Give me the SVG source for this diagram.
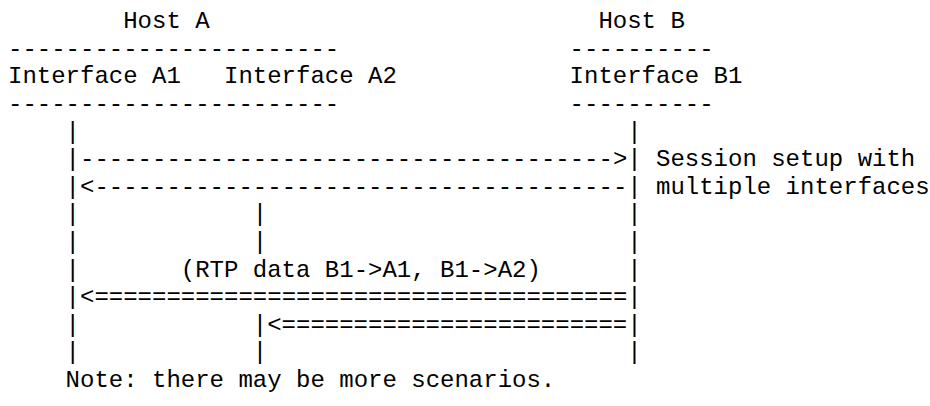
<svg xmlns="http://www.w3.org/2000/svg" width="930" height="406" viewBox="0 0 930 406">
<style>
text{font-family:"Liberation Mono","Courier New",monospace;font-size:24px;fill:#000;white-space:pre}
</style>
<rect width="930" height="406" fill="#fff"/>
<g id="hostA">
<text x="123.2" y="28.2">Host A</text>
<text x="8" y="55.8">-----------------------</text>
<text x="8" y="83.4">Interface A1</text>
<text x="224" y="83.4">Interface A2</text>
<text x="8" y="111">-----------------------</text>
</g>
<g id="hostB">
<text x="598.4" y="28.2">Host B</text>
<text x="569.6" y="55.8">----------</text>
<text x="569.6" y="83.4">Interface B1</text>
<text x="569.6" y="111">----------</text>
</g>
<g id="lifelineA1">
<text x="65.6" y="138.6">|</text>
<text x="65.6" y="166.2">|</text>
<text x="65.6" y="193.8">|</text>
<text x="65.6" y="221.4">|</text>
<text x="65.6" y="249">|</text>
<text x="65.6" y="276.6">|</text>
<text x="65.6" y="304.2">|</text>
<text x="65.6" y="331.8">|</text>
<text x="65.6" y="359.4">|</text>
</g>
<g id="lifelineA2">
<text x="252.8" y="221.4">|</text>
<text x="252.8" y="249">|</text>
<text x="252.8" y="331.8">|</text>
<text x="252.8" y="359.4">|</text>
</g>
<g id="lifelineB1">
<text x="627.2" y="138.6">|</text>
<text x="627.2" y="166.2">|</text>
<text x="627.2" y="193.8">|</text>
<text x="627.2" y="221.4">|</text>
<text x="627.2" y="249">|</text>
<text x="627.2" y="276.6">|</text>
<text x="627.2" y="304.2">|</text>
<text x="627.2" y="331.8">|</text>
<text x="627.2" y="359.4">|</text>
</g>
<g id="connectors">
<text x="80" y="166.2">-------------------------------------&gt;</text>
<text x="80" y="193.8">&lt;-------------------------------------</text>
<text x="80" y="304.2">&lt;=====================================</text>
<text x="267.2" y="331.8">&lt;========================</text>
</g>
<g id="labels">
<text x="656" y="166.2">Session setup with</text>
<text x="656" y="193.8">multiple interfaces</text>
<text x="180.8" y="276.6">(RTP data B1-&gt;A1, B1-&gt;A2)</text>
<text x="65.6" y="387">Note: there may be more scenarios.</text>
</g>
</svg>
